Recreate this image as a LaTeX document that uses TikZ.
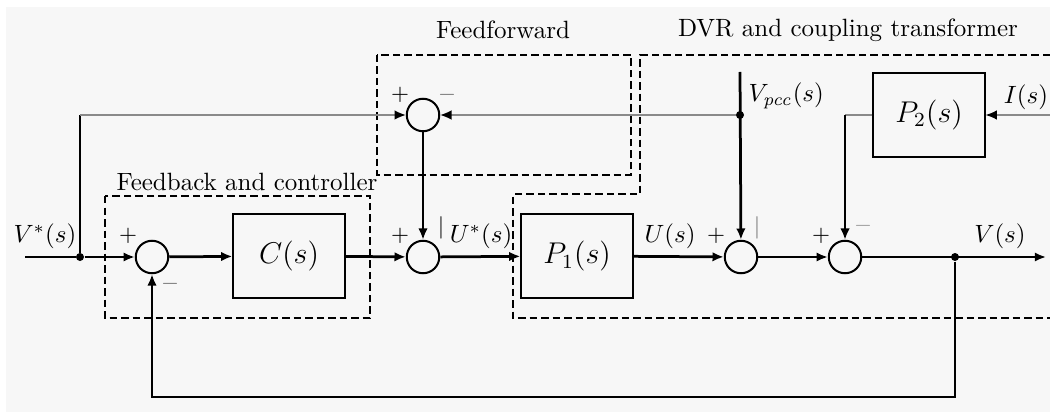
\documentclass[tikz,border=0pt]{standalone}
\usetikzlibrary{arrows.meta}
\definecolor{bg}{HTML}{F7F7F7}
\definecolor{thinline}{HTML}{8A8A8A}
\tikzset{
  sig/.style={line width=1.1pt,-{Latex[length=4.5pt,width=3.8pt]}},
  sigplain/.style={line width=1.1pt},
  thinsig/.style={line width=0.45pt,draw=thinline,-{Latex[length=4.5pt,width=3.8pt,fill=black,color=black]}},
  thinplain/.style={line width=0.45pt,draw=thinline},
  sumnode/.style={draw,line width=0.8pt,circle,minimum size=13pt,inner sep=0pt},
  blockbox/.style={draw,line width=0.8pt,minimum width=44.5pt,minimum height=33.6pt,inner sep=0pt,font=\large},
  groupbox/.style={dashed,line width=1pt,dash pattern=on 3pt off 1.6pt},
  dot/.style={circle,fill=black,inner sep=0pt,minimum size=3.2pt},
  lbl/.style={inner sep=0pt,font=\normalsize},
  sgn/.style={inner sep=0pt,font=\small},
  grpt/.style={inner sep=0pt,font=\normalsize}
}
\begin{document}
\begin{tikzpicture}[x=0.4pt,y=-0.4pt]
\useasboundingbox (0,0) rectangle (1050,412);
\fill[white] (0,0) rectangle (1050,412);
\fill[bg] (6,7) rectangle (1050,412);

% group boxes
\draw[groupbox] (105,196) rectangle (370,318);
\draw[groupbox] (377,55) rectangle (631,175);
\draw[groupbox] (1050,55) -- (640,55) -- (640,194) -- (513,194) -- (513,318) -- (1050,318);
\node[grpt] (gfb) at (247,182) {Feedback and controller};
\node[grpt] (gff) at (503,30) {Feedforward};
\node[grpt] (gdvr) at (848,30) {DVR and coupling transformer};

% nodes
\coordinate (in) at (25,257);
\node[dot] (j1) at (80,257) {};
\node[sumnode] (s1) at (152,257) {};
\node[blockbox] (C) at (289,256) {$C(s)$};
\node[sumnode] (s2) at (423,257) {};
\node[sumnode] (ff) at (423,115) {};
\node[blockbox] (P1) at (577,256) {$P_1(s)$};
\node[sumnode] (s3) at (741,257) {};
\node[sumnode] (s4) at (845,257) {};
\node[dot] (j2) at (955,257) {};
\coordinate (out) at (1046,257);
\coordinate (c1) at (80,115);
\node[dot] (j3) at (740,115) {};
\coordinate (vtop) at (740,72);
\node[blockbox] (P2) at (929,115) {$P_2(s)$};
\coordinate (c4) at (845,115);
\coordinate (iin) at (1050,115);
\coordinate (fbr) at (955,397);
\coordinate (fbl) at (152,397);

% connectors
\draw[sigplain] (in) -- (j1);
\draw[sig] (j1) -- (s1);
\draw[sig] (s1) -- (C);
\draw[sig] (C) -- (s2);
\draw[sig] (s2) -- (P1);
\draw[sig] (P1) -- (s3);
\draw[sig] (s3) -- (s4);
\draw[sig] (s4) -- (out);
\draw[sig] (j2) -- (fbr) -- (fbl) -- (s1);
\draw[sigplain] (j1) -- (c1);
\draw[thinsig] (c1) -- (ff);
\draw[sig] (ff) -- (s2);
\draw[sig] (vtop) -- (s3);
\draw[thinsig] (j3) -- (ff);
\draw[thinplain] (P2) -- (c4);
\draw[sig] (c4) -- (s4);
\draw[thinsig] (iin) -- (P2);

% signal labels
\node[lbl] (lv) at (45,236) {$V^{*}(s)$};
\node[lbl] (lu) at (481,236) {$U^{*}(s)$};
\node[lbl] (luu) at (670,236) {$U(s)$};
\node[lbl,anchor=west] (lvp) at (748,96) {$V_{\mathit{pcc}}(s)$};
\node[lbl] (li) at (1026,97) {$I(s)$};
\node[lbl] (lvo) at (1000,236) {$V(s)$};

% signs
\node[sgn] (p1) at (128,236) {$+$};
\node[sgn,text=black!55] (m1) at (170,284) {$-$};
\node[sgn] (p2) at (400,236) {$+$};
\node[sgn] (b2) at (441,228) {$|$};
\node[sgn] (pf) at (400,95) {$+$};
\node[sgn,text=black!55] (mf) at (447,95) {$-$};
\node[sgn] (p3) at (716,236) {$+$};
\node[sgn,text=black!55] (b3) at (757,228) {$|$};
\node[sgn] (p4) at (821,236) {$+$};
\node[sgn,text=black!40] (m4) at (863,226) {$-$};
\end{tikzpicture}
\end{document}
